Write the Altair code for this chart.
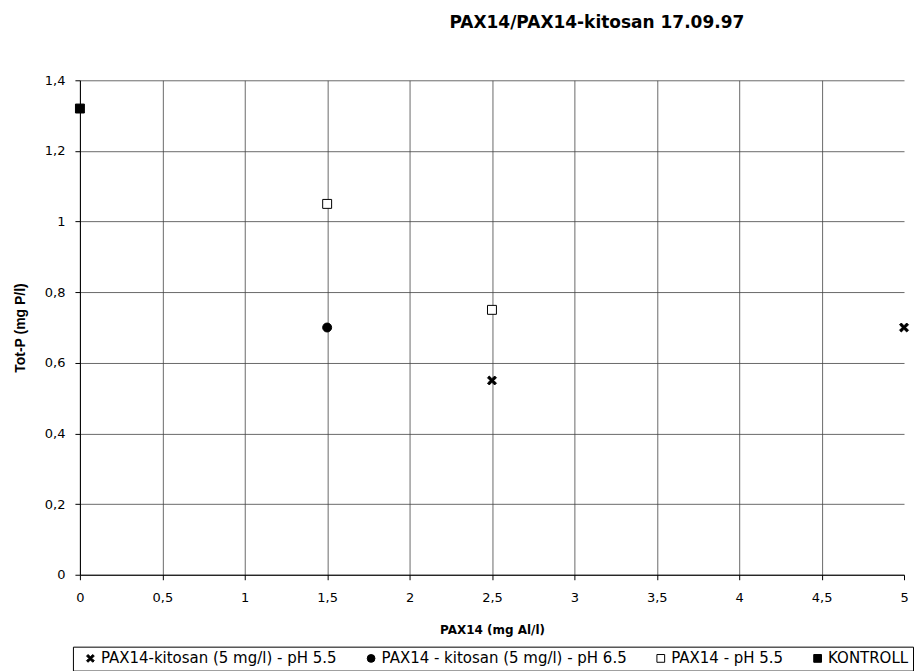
import altair as alt
import pandas as pd

series_names = [
    "PAX14-kitosan (5 mg/l) - pH 5.5",
    "PAX14 - kitosan (5 mg/l) - pH 6.5",
    "PAX14 - pH 5.5",
    "KONTROLL",
]
x_values = [2.5, 5.0, 1.5, 1.5, 2.5, 0.0]
y_values = [0.55, 0.70, 0.70, 1.05, 0.75, 1.32]
series = [series_names[0], series_names[0], series_names[1],
          series_names[2], series_names[2], series_names[3]]
x_ticks = [0, 0.5, 1, 1.5, 2, 2.5, 3, 3.5, 4, 4.5, 5]
y_ticks = [0, 0.2, 0.4, 0.6, 0.8, 1.0, 1.2, 1.4]

df = pd.DataFrame({"x": x_values, "y": y_values, "series": series})

x_shape = "M-1,-0.6L-0.6,-1L0,-0.4L0.6,-1L1,-0.6L0.4,0L1,0.6L0.6,1L0,0.4L-0.6,1L-1,0.6L-0.4,0Z"

label_expr = "replace(format(datum.value, '~g'), '.', ',')"

chart = alt.Chart(df).mark_point(filled=True, size=80, strokeWidth=1, opacity=1).encode(
    x=alt.X("x:Q", title="PAX14 (mg Al/l)",
            scale=alt.Scale(domain=[0, 5], nice=False),
            axis=alt.Axis(values=x_ticks, labelExpr=label_expr, tickSize=5,
                          labelPadding=12, titlePadding=20, labelFlush=False,
                          titleFont="DejaVu Sans", titleFontSize=12,
                          gridColor={"condition": {"test": "datum.value == 5", "value": "transparent"},
                                     "value": "#444"})),
    y=alt.Y("y:Q", title="Tot-P (mg P/l)",
            scale=alt.Scale(domain=[0, 1.4], nice=False),
            axis=alt.Axis(values=y_ticks, labelExpr=label_expr, tickSize=5,
                          labelPadding=10, titlePadding=17, labelFlush=False,
                          titleFont="Liberation Sans", titleFontSize=14)),
    shape=alt.Shape("series:N", scale=alt.Scale(domain=series_names,
                    range=[x_shape, "circle", "square", "square"]),
                    legend=alt.Legend(title=" ", orient="none", legendX=-7, legendY=567,
                                      direction="horizontal", columns=4,
                                      titleOrient="left", titlePadding=6,
                                      titleFont="DejaVu Sans", titleFontSize=12,
                                      columnPadding=26, labelOffset=3,
                                      symbolSize=60, symbolStrokeWidth=1, padding=4,
                                      strokeColor="black", fillColor="white",
                                      labelFontSize=15, labelFont="DejaVu Sans",
                                      labelColor="black", labelLimit=0)),
    fill=alt.Fill("series:N", scale=alt.Scale(domain=series_names,
                  range=["black", "black", "white", "black"]),
                  legend=None),
    stroke=alt.Stroke("series:N", scale=alt.Scale(domain=series_names,
                      range=["black", "black", "black", "black"]),
                      legend=None),
).properties(
    width=825, height=495,
    title=alt.TitleParams("PAX14/PAX14-kitosan 17.09.97", fontSize=17, fontWeight="bold",
                          font="DejaVu Sans", anchor="middle", dx=105, offset=42,
                          color="black"),
    autosize=alt.AutoSizeParams(type="none"),
    padding={"left": 72, "top": 72, "right": 12, "bottom": 96},
).configure_view(stroke=None).configure_axis(
    labelFont="DejaVu Sans", labelFontSize=13,
    titleFontWeight="bold", labelColor="black", titleColor="black",
    domainColor="black", tickColor="black", gridColor="#444", gridWidth=0.8,
    gridOpacity=1,
)

chart.save("out.html", embed_options={"renderer": "svg", "actions": False})
